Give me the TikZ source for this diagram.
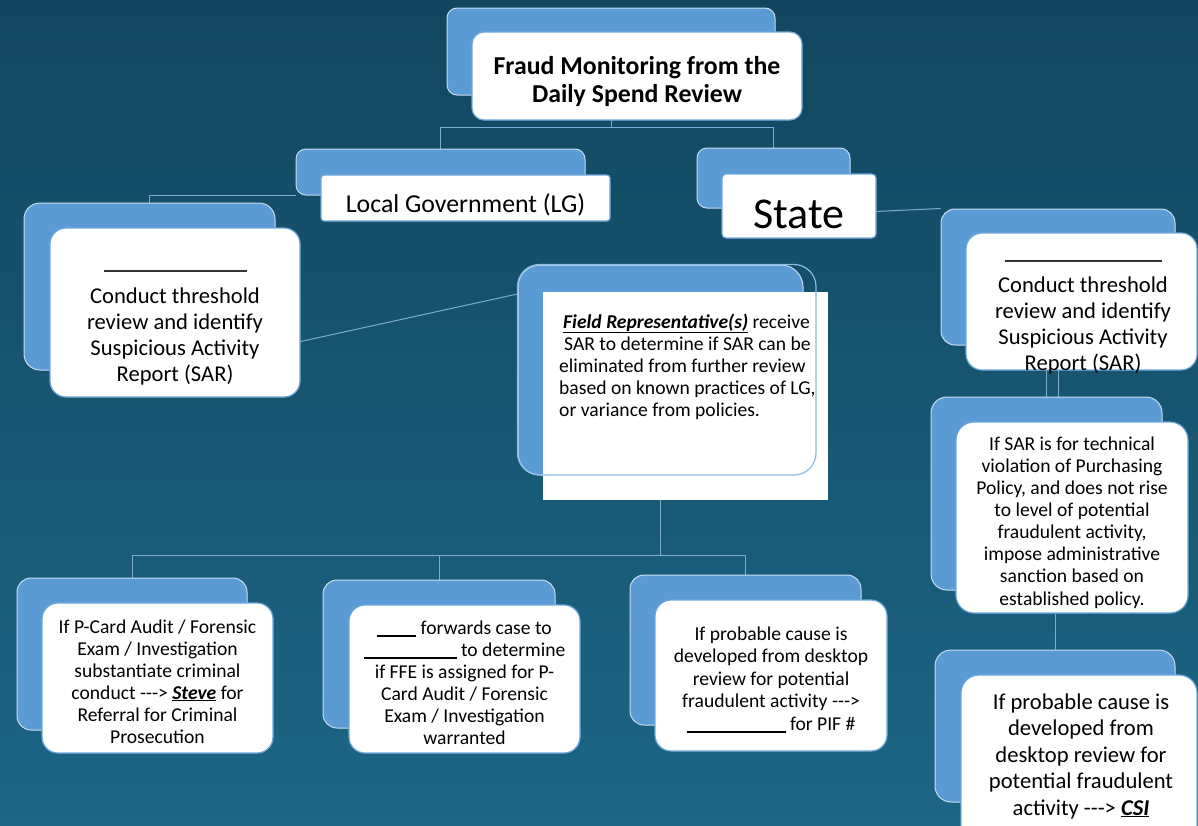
\documentclass[tikz,border=0pt]{standalone}
\usepackage{fontspec}
\setmainfont{Carlito}
\usetikzlibrary{calc}
\definecolor{bgtop}{HTML}{12465E}
\definecolor{bgbot}{HTML}{1C6686}
\definecolor{backblue}{HTML}{5B9BD5}
\definecolor{backedge}{HTML}{C8DCEF}
\definecolor{frontedge}{HTML}{6FA6DA}
\definecolor{wire}{HTML}{7FAAD3}
\definecolor{outl}{HTML}{8DBBE4}
\pgfdeclarelayer{bg}
\pgfsetlayers{bg,main}
\begin{document}
\begin{tikzpicture}[x=1pt,y=-1pt,
  backbox/.style={draw=backedge,fill=backblue,rounded corners=10pt,line width=1pt,inner sep=0pt},
  frontbox/.style={draw=frontedge,fill=white,rounded corners=12pt,line width=1.2pt,inner sep=0pt},
  plainbox/.style={fill=white,inner sep=0pt},
  wireline/.style={draw=wire,line width=1pt},
  bigtxt/.style={font=\fontsize{22.6}{26}\selectfont},
  smalltxt/.style={font=\fontsize{19.6}{22}\selectfont},
  txt/.style={inner sep=0pt,align=center,anchor=base,text=black},
  blankrule/.style={inner sep=0pt,text=black!80},
]
\useasboundingbox (0,0) rectangle (1198,825);
\clip (0,0) rectangle (1198,825);

% ---------- boxes ----------
\node[backbox,minimum width=328pt,minimum height=87pt] (topB) at (611,51.5) {};
\node[frontbox,minimum width=330pt,minimum height=88pt] (topF) at (637,76) {};

\node[backbox,minimum width=289pt,minimum height=46pt] (lgB) at (440.5,172) {};
\node[frontbox,rounded corners=3pt,minimum width=289pt,minimum height=46pt] (lgF) at (465.5,198) {};

\node[backbox,minimum width=153pt,minimum height=60pt] (stB) at (773.5,178) {};
\node[frontbox,rounded corners=4pt,minimum width=154pt,minimum height=64pt] (stF) at (799,206) {};

\node[backbox,rounded corners=16pt,minimum width=251pt,minimum height=167pt] (lsarB) at (149.5,286.5) {};
\node[frontbox,rounded corners=16pt,minimum width=250pt,minimum height=169pt] (lsarF) at (175,312.5) {};

\node[backbox,rounded corners=22pt,minimum width=285pt,minimum height=210pt] (frB) at (660.5,370) {};
\node[plainbox,minimum width=285pt,minimum height=208pt] (frF) at (685.5,396) {};
\draw[outl,line width=1.2pt,rounded corners=22pt] (frB.north west) rectangle (816,475);

\node[backbox,rounded corners=14pt,minimum width=230pt,minimum height=152pt] (b1B) at (132,654) {};
\node[frontbox,rounded corners=16pt,minimum width=231pt,minimum height=150pt] (b1F) at (157.5,678) {};

\node[backbox,rounded corners=14pt,minimum width=232pt,minimum height=148pt] (b2B) at (439,654) {};
\node[frontbox,rounded corners=16pt,minimum width=231pt,minimum height=148pt] (b2F) at (464.5,679) {};

\node[backbox,rounded corners=14pt,minimum width=231pt,minimum height=150pt] (b3B) at (745.5,650) {};
\node[frontbox,rounded corners=16pt,minimum width=232pt,minimum height=151pt] (b3F) at (771,675.5) {};

\node[backbox,rounded corners=14pt,minimum width=234pt,minimum height=136pt] (rsarB) at (1058,277) {};
\node[frontbox,rounded corners=16pt,minimum width=231pt,minimum height=137pt] (rsarF) at (1081.5,301.5) {};

\node[backbox,rounded corners=16pt,minimum width=231pt,minimum height=193pt] (rb2B) at (1046.5,493.5) {};
\node[frontbox,rounded corners=18pt,minimum width=232pt,minimum height=191pt] (rb2F) at (1072,517.5) {};

\node[backbox,rounded corners=16pt,minimum width=240pt,minimum height=152pt] (rb3B) at (1055,726) {};
\node[frontbox,rounded corners=18pt,minimum width=236pt,minimum height=170pt] (rb3F) at (1079,760) {};

% ---------- texts (anchor base = baseline of the last line) ----------
\node[txt,font=\fontsize{25.8}{28}\selectfont\bfseries] (topT) at (637,102) {Fraud Monitoring from the\\Daily Spend Review};
\node[txt,font=\fontsize{25.8}{30}\selectfont] (lgT) at (465.5,212) {Local Government (LG)};
\node[txt,font=\fontsize{44}{50}\selectfont] (stT) at (799,228) {State};

\node[blankrule] (lsarU) at (175.5,271) {\rule{143pt}{1.4pt}};
\node[txt,bigtxt] (lsarT) at (175,381) {Conduct threshold\\review and identify\\Suspicious Activity\\Report (SAR)};

\node[txt,smalltxt,align=left,anchor=base west] (frT) at (559,416)
  {\hspace{4pt}\underline{\textbf{\textit{Field Representative(s)}}} receive\\
   \hspace{5pt}SAR to determine if SAR can be\\
   eliminated from further review\\
   based on known practices of LG,\\
   or variance from policies.};

\node[txt,smalltxt] (b1T) at (157.5,743) {If P-Card Audit / Forensic\\Exam / Investigation\\substantiate criminal\\conduct -{}-{}-> \underline{\textbf{\textit{Steve}}} for\\Referral for Criminal\\Prosecution};
\node[txt,smalltxt] (b2T) at (464.5,744) {\rule[-2.5pt]{39pt}{1.1pt} forwards case to\\\rule[-2.5pt]{93pt}{1.1pt} to determine\\if FFE is assigned for P-\\Card Audit / Forensic\\Exam / Investigation\\warranted};
\node[txt,font=\fontsize{19.6}{22.5}\selectfont] (b3T) at (771,730) {If probable cause is\\developed from desktop\\review for potential\\fraudulent activity -{}-{}->\\\rule[-2.5pt]{99pt}{1.1pt} for PIF \#};

\node[blankrule] (rsarU) at (1083.5,261) {\rule{157pt}{1.4pt}};
\node[txt,bigtxt] (rsarT) at (1083,370) {Conduct threshold\\review and identify\\Suspicious Activity\\Report (SAR)};

\node[txt,font=\fontsize{19.6}{22.1}\selectfont] (rb2T) at (1072,605) {If SAR is for technical\\violation of Purchasing\\Policy, and does not rise\\to level of potential\\fraudulent activity,\\impose administrative\\sanction based on\\established policy.};

\node[txt,font=\fontsize{22.6}{26.5}\selectfont] (rb3T) at (1081,815) {If probable cause is\\developed from\\desktop review for\\potential fraudulent\\activity -{}-{}-> \underline{\textbf{\textit{CSI}}}};

% ---------- background and connectors ----------
\begin{pgfonlayer}{bg}
  \shade[top color=bgtop,bottom color=bgbot] (0,0) rectangle (1198,825);
  \coordinate (tbus) at (611,127);
  \draw[wireline] (topB.south) -- (tbus);
  \draw[wireline] (tbus) -| (lgB.north);
  \draw[wireline] (tbus) -| (stB.north);
  \draw[wireline] (lgB.south west) -| (lsarB.north);
  \draw[wireline] (lsarF.-13) -- (frB.152);
  \coordinate (bbus) at (660.5,555);
  \draw[wireline] (frB.south) -- (bbus);
  \draw[wireline] (bbus) -| (b1B.north);
  \draw[wireline] (bbus) -| (b2B.north);
  \draw[wireline] (bbus) -| (b3B.north);
  \draw[wireline] (stF.-4) -- (rsarB.north west);
  \draw[wireline] (rsarB.south) -- (rsarB.south |- rb2B.north);
  \draw[wireline] (rb2B.north) -- (rb2B.north |- rsarF.south);
  \draw[wireline] (rb3B.north) -- (rb3B.north |- rb2F.south);
\end{pgfonlayer}
\end{tikzpicture}
\end{document}
